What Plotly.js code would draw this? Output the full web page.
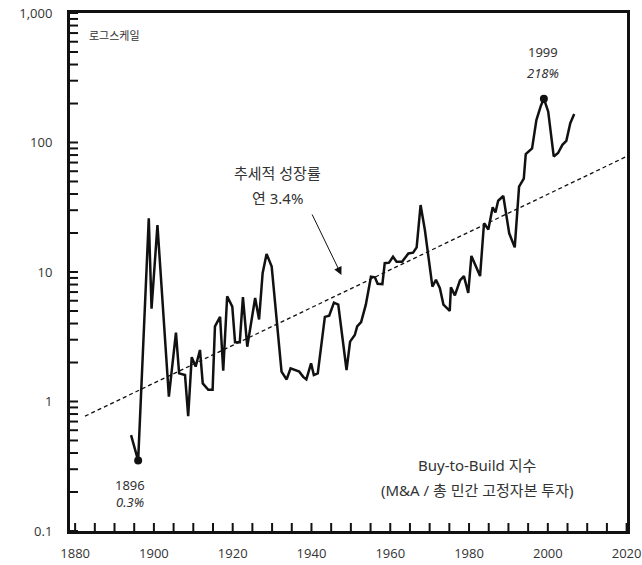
<!DOCTYPE html>
<html>
<head>
<meta charset="utf-8">
<script src="https://cdn.plot.ly/plotly-3.0.1.min.js"></script>
</head>
<body style="margin:0">
<div id="chart"></div>
<script>
// Buy-to-Build index (M&A / total private fixed investment), %
const years = [1894.2,1896.0,1898.7,1899.4,1900.9,1903.8,1905.6,1906.4,1907.9,1908.7,1909.6,1910.6,1911.7,1912.4,1913.8,1914.9,1915.5,1916.8,1917.6,1918.6,1919.9,1920.6,1921.8,1922.6,1923.7,1925.7,1926.7,1927.6,1928.6,1929.9,1932.4,1933.7,1934.7,1936.9,1937.9,1938.7,1939.9,1940.6,1941.6,1943.4,1944.5,1945.7,1946.8,1948.9,1949.8,1951.0,1951.6,1952.6,1953.8,1955.1,1956.1,1956.8,1958.0,1958.6,1959.7,1960.7,1961.6,1963.0,1964.6,1965.8,1966.7,1967.7,1968.8,1970.7,1971.6,1972.6,1973.5,1975.1,1975.4,1976.4,1977.7,1978.7,1979.8,1980.6,1982.8,1983.8,1984.9,1986.0,1986.7,1987.4,1988.7,1990.2,1991.6,1992.7,1993.9,1994.4,1996.0,1997.1,1998.2,1999.0,2000.1,2001.5,2002.6,2003.7,2004.7,2005.7,2006.7];
const values = [0.55,0.35,26,5.2,23,1.09,3.4,1.65,1.6,0.77,2.2,1.86,2.5,1.38,1.23,1.23,3.8,4.5,1.73,6.5,5.4,2.87,2.87,6.4,2.65,6.3,4.3,9.8,13.8,11,1.7,1.48,1.8,1.7,1.55,1.48,1.97,1.6,1.65,4.5,4.6,5.8,5.6,1.75,2.9,3.26,3.8,4.1,5.6,9.2,9.1,8.1,8.05,11.7,11.8,13.1,12,12,13.9,14.1,15.5,32.9,21,7.7,8.7,7.5,5.6,5.0,7.6,6.6,8.6,9.3,6.9,13.3,9.3,23.8,21.3,31.6,28.8,35.5,38.6,19.9,15.5,45.6,52.7,81.5,90,149,191,218,173,78,83,96,103,141,166];

// highlighted points
const markYears = [1896, 1999];
const markValues = [0.35, 218];
const markYearLabels = ['1896', '1999'];
const markPctLabels = ['0.3%', '218%'];

// trend line (3.4% per year) end points
const trendYears = [1882.5, 2020];
const trendValues = [0.77, 78];

// axis ranges and tick positions
const xRange = [1878.7, 2020.1];
const yRangeLog = [-1, 3];
const xTickMarks = [];
for (let yr = 1880; yr <= 2020; yr += 5) xTickMarks.push(yr);
const yTickMarks = [];
[0.1, 1, 10, 100].forEach(d => { for (let k = 1; k <= 9; k++) yTickMarks.push(+(d * k).toPrecision(3)); });
yTickMarks.push(1000);

const FONT = 'Noto Sans, Noto Sans CJK KR, sans-serif';
const TXT = '#333';

// inward tick marks drawn as short segments at the axis edges (8 px long)
const PX_PER_YEAR = 557.3 / (xRange[1] - xRange[0]);
const PX_PER_DECADE = 518 / (yRangeLog[1] - yRangeLog[0]);
const tx = [], ty = [];
xTickMarks.forEach(v => { tx.push(v, v, null); ty.push(Math.pow(10, yRangeLog[0]), Math.pow(10, yRangeLog[0] + 8 / PX_PER_DECADE), null); });
yTickMarks.forEach(v => { tx.push(xRange[0], xRange[0] + 8 / PX_PER_YEAR, null); ty.push(v, v, null); });

const traces = [
  {x: tx, y: ty, mode: 'lines', line: {color: '#111', width: 2}, hoverinfo: 'skip', connectgaps: false},
  {x: trendYears, y: trendValues, mode: 'lines',
   line: {color: '#111', width: 1.3, dash: '4px,3px'}},
  {x: years, y: values, mode: 'lines',
   line: {color: '#111', width: 2.5}},
  {x: markYears, y: markValues, mode: 'markers',
   marker: {color: '#111', size: 8}}
];

const annotations = [
  {xref: 'paper', yref: 'paper', x: 0.0305, y: 0.9575, xanchor: 'left', yanchor: 'middle',
   text: '로그스케일', showarrow: false, font: {family: FONT, size: 11, color: TXT}},
  {x: 1893.9, y: -0.645, text: markYearLabels[0], showarrow: false,
   font: {family: FONT, size: 13, color: TXT}},
  {x: 1893.9, y: -0.776, text: '<i>' + markPctLabels[0] + '</i>', showarrow: false,
   font: {family: FONT, size: 13, color: TXT}},
  {x: 1998.7, y: 2.699, text: markYearLabels[1], showarrow: false,
   font: {family: FONT, size: 13, color: TXT}},
  {x: 1998.7, y: 2.537, text: '<i>' + markPctLabels[1] + '</i>', showarrow: false,
   font: {family: FONT, size: 13, color: TXT}},
  {x: 1931.4, y: 1.762, text: '추세적 성장률', showarrow: false,
   font: {family: FONT, size: 15, color: TXT}},
  {x: 1931.4, y: 1.569, text: '연 3.4%', showarrow: false,
   font: {family: FONT, size: 15, color: TXT}},
  {x: 1947.6, y: 0.977, ax: -30, ay: -62, text: '', showarrow: true,
   arrowhead: 2, arrowsize: 1.6, arrowwidth: 1, arrowcolor: '#111'},
  {x: 1982.0, y: -0.490, text: 'Buy-to-Build 지수', showarrow: false,
   font: {family: FONT, size: 15, color: TXT}},
  {x: 1982.0, y: -0.683, text: '(M&A / 총 민간 고정자본 투자)', showarrow: false,
   font: {family: FONT, size: 15, color: TXT}}
];

const layout = {
  width: 642, height: 565,
  margin: {l: 70, r: 15, t: 13, b: 34},
  showlegend: false,
  xaxis: {
    range: xRange, showgrid: false, zeroline: false,
    showline: true, linecolor: '#111', linewidth: 3, mirror: true,
    tick0: 1880, dtick: 20, ticks: '',
    ticklabelstandoff: 8,
    tickfont: {size: 13, color: TXT}
  },
  yaxis: {
    type: 'log', range: yRangeLog, showgrid: false, zeroline: false,
    showline: true, linecolor: '#111', linewidth: 3, mirror: true,
    dtick: 1, separatethousands: true, ticks: '',
    ticklabelstandoff: 12,
    tickfont: {size: 13, color: TXT}
  },
  annotations: annotations
};

Plotly.newPlot('chart', traces, layout, {displayModeBar: false});
</script>
</body>
</html>
